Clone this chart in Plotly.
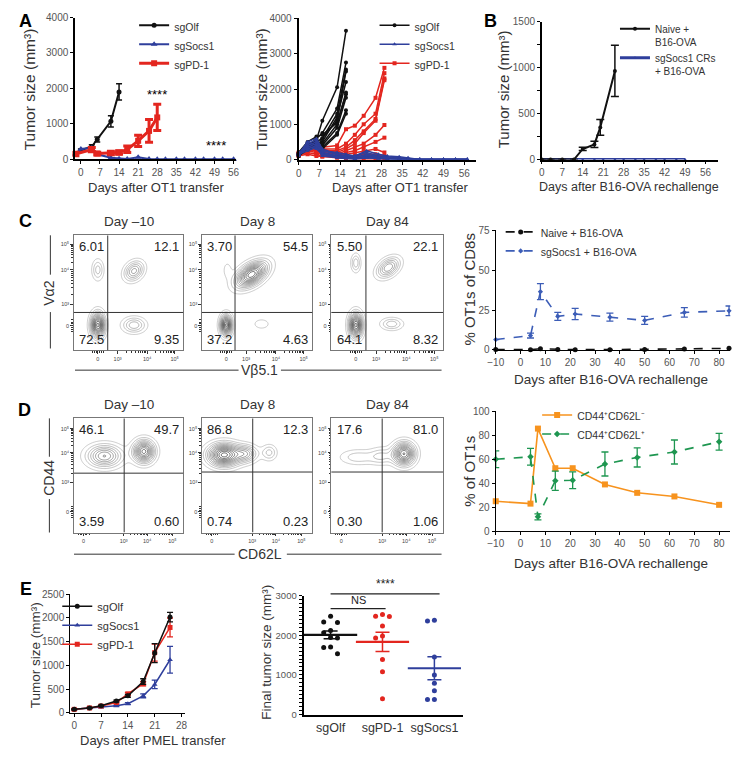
import numpy as np
import plotly.graph_objects as go

W, H = 751, 758
FONT = "Liberation Sans, Arial, sans-serif"

BLACK = "#111111"
BLUE = "#2F3F9C"
RED = "#E3261F"
BLUE_C = "#3C5DB7"
ORANGE = "#F7931E"
GREEN = "#1E9650"

# ---------------- Panel A (left): mean +/- SEM ----------------
a_olf_days = [-2, 0, 4, 6, 11, 14]
a_olf_vals = [130, 250, 360, 555, 1070, 1900]
a_olf_err = [30, 40, 50, 70, 160, 230]
a_socs_days = [-2, 0, 4, 6, 11, 14, 17, 21, 25, 28, 31, 35, 38, 42, 45, 49, 52, 56]
a_socs_vals = [150, 290, 320, 140, 40, 15, 10, 55, 5, 0, 0, 0, 0, 0, 0, 0, 0, 0]
a_pd1_days = [-2, 4, 6, 11, 14, 17, 21, 25, 28]
a_pd1_vals = [150, 270, 160, 175, 190, 280, 520, 800, 1180]
a_pd1_err = [50, 60, 40, 50, 50, 90, 160, 320, 370]
a_sig_x = [28, 49.5]
a_sig_y = [1840, 380]
a_sig_text = ["****", "****"]

# ---------------- Panel A (middle): individual mice ----------------
sp_olf_days = [0, 3, 6, 8, 13, 16]
sp_olf = [
    [150, 400, 550, 1100, 2050, 3650],
    [120, 350, 600, 750, 1450, 2750],
    [180, 450, 500, 600, 1300, 2550],
    [100, 300, 450, 500, 1200, 2200],
    [200, 500, 650, 700, 1050, 1850],
    [150, 380, 420, 400, 900, 1750],
    [130, 320, 380, 350, 750, 1400],
    [160, 420, 550, 300, 700, 1300],
    [110, 280, 350, 600, 1100, 2500],
    [140, 360, 480, 450, 1000, 1900],
]
sp_pd1_days = [0, 3, 6, 8, 13, 16, 19, 22, 26, 29]
sp_pd1 = [
    [150, 300, 450, 350, 400, 860, 960, 1240, 1750, 2600],
    [120, 350, 400, 300, 300, 450, 700, 1000, 1300, 2450],
    [180, 400, 350, 250, 250, 350, 550, 800, 1150, 2300],
    [100, 250, 300, 300, 200, 300, 450, 750, 1100, 2250],
    [200, 300, 250, 200, 150, 250, 350, 450, 700, 980],
    [150, 250, 200, 150, 100, 200, 250, 350, 500, 620],
    [130, 200, 150, 100, 100, 150, 200, 250, 300, 200],
    [160, 300, 250, 200, 150, 100, 100, 150, 150, 100],
    [110, 150, 100, 80, 50, 30, 20, 0, 0, 0],
]
sp_socs_days = [0, 3, 6, 8, 13, 16, 19, 23, 27, 30, 34, 37, 41, 45, 49, 53, 57]
sp_socs = [
    [150, 500, 600, 300, 150, 100, 100, 250, 150, 100, 80, 50, 0, 0, 0, 0, 0],
    [120, 450, 550, 250, 200, 150, 100, 200, 100, 80, 50, 30, 0, 0, 0, 0, 0],
    [180, 400, 500, 200, 100, 80, 50, 150, 80, 50, 30, 0, 0, 0, 0, 0, 0],
    [100, 350, 450, 150, 80, 50, 30, 100, 50, 30, 0, 0, 0, 0, 0, 0, 0],
    [200, 300, 400, 100, 50, 30, 0, 50, 30, 0, 0, 0, 0, 0, 0, 0, 0],
    [150, 250, 350, 200, 100, 80, 50, 80, 50, 30, 0, 0, 0, 0, 0, 0, 0],
    [130, 500, 400, 250, 150, 100, 80, 120, 80, 50, 30, 0, 0, 0, 0, 0, 0],
    [160, 380, 300, 150, 60, 40, 20, 50, 20, 0, 0, 0, 0, 0, 0, 0, 0],
]

# ---------------- Panel B ----------------
b_naive_days = [0, 3, 7, 11, 14, 18, 20, 25]
b_naive_vals = [0, 0, 0, 0, 115, 165, 350, 965]
b_naive_err = [0, 0, 0, 0, 18, 35, 85, 280]
b_socs_days = [0, 3, 7, 11, 14, 18, 21, 25, 28, 32, 35, 39, 42, 46, 49]
b_socs_vals = [0, 0, 0, 0, 0, 0, 0, 0, 0, 0, 0, 0, 0, 0, 0]

# ---------------- Panel C / D flow plots ----------------
flow_titles = ["Day \u201310", "Day 8", "Day 84"]
c_quads = [["6.01", "12.1", "72.5", "9.35"],
           ["3.70", "54.5", "37.2", "4.63"],
           ["5.50", "22.1", "64.1", "8.32"]]
d_quads = [["46.1", "49.7", "3.59", "0.60"],
           ["86.8", "12.3", "0.74", "0.23"],
           ["17.6", "81.0", "0.30", "1.06"]]
# populations: (center x, center y, spread x, spread y, tilt deg, density)
c_pops = [
    [(0.22, 0.70, 0.035, 0.060, 0, 0.26), (0.55, 0.69, 0.065, 0.050, 40, 0.48),
     (0.22, 0.22, 0.042, 0.070, 0, 1.00), (0.55, 0.22, 0.070, 0.045, 0, 0.36)],
    [(0.23, 0.70, 0.028, 0.050, 0, 0.11), (0.45, 0.66, 0.105, 0.058, 32, 0.95),
     (0.22, 0.22, 0.035, 0.058, 0, 1.00), (0.54, 0.23, 0.050, 0.030, 0, 0.14)],
    [(0.22, 0.76, 0.028, 0.052, 0, 0.28), (0.51, 0.72, 0.075, 0.048, 35, 0.52),
     (0.22, 0.22, 0.040, 0.070, 0, 1.00), (0.54, 0.23, 0.065, 0.035, 0, 0.28)],
]
d_pops = [
    [(0.28, 0.67, 0.105, 0.065, 0, 0.60), (0.64, 0.71, 0.065, 0.065, 0, 0.85)],
    [(0.20, 0.68, 0.095, 0.065, 0, 1.00), (0.40, 0.69, 0.070, 0.050, 0, 0.45),
     (0.61, 0.70, 0.045, 0.045, 0, 0.25)],
    [(0.24, 0.66, 0.110, 0.045, 0, 0.20), (0.45, 0.67, 0.070, 0.050, 0, 0.22),
     (0.65, 0.69, 0.065, 0.065, 0, 0.90)],
]
c_gate_x = [0.31, 0.30, 0.31]
c_gate_y = [0.33, 0.33, 0.33]
d_gate_x = [0.46, 0.46, 0.455]
d_gate_y = [0.52, 0.53, 0.53]
flow_ticktext = ["0", "10\u00b3", "10\u2074", "10\u2075"]
c_xtick = [0.22, 0.40, 0.67, 0.92]
c_ytick = [0.216, 0.40, 0.70, 0.92]
d_xtick = [0.09, 0.455, 0.67, 0.90]
d_ytick = [0.18, 0.44, 0.70, 0.91]

# ---------------- Panel C right ----------------
c_days = [-10, 4, 8, 15, 22, 36, 50, 66, 84]
c_naive = [0.3, 0.2, 0.8, 0.3, 0.2, 0.2, 0.3, 0.6, 1.0]
c_socs = [6.5, 9, 36.5, 21, 22.5, 20.5, 18.5, 23.5, 24.5]
c_socs_err = [0, 1.5, 5, 2.5, 3.5, 2.5, 2.5, 3, 3]

# ---------------- Panel D right ----------------
d_days = [-10, 4, 7, 14, 21, 34, 47, 62, 80]
d_eff = [25, 23, 85.5, 52.5, 52.5, 39, 32, 29, 22]
d_mem = [60, 62, 12, 42, 42.5, 56, 61.5, 66, 74.5]
d_mem_err = [7, 7, 2.5, 8, 7, 10, 8, 10, 7]

# ---------------- Panel E left ----------------
e_days = [0, 4, 7, 11, 14, 18, 21, 25]
e_olf = [75, 105, 150, 250, 360, 660, 1260, 2020]
e_olf_err = [10, 10, 15, 20, 30, 60, 200, 100]
e_socs = [75, 100, 120, 150, 195, 360, 600, 1120]
e_socs_err = [10, 10, 10, 15, 20, 40, 90, 280]
e_pd1 = [75, 105, 145, 220, 400, 615, 1270, 1800]
e_pd1_err = [10, 10, 15, 20, 30, 45, 180, 200]

# ---------------- Panel E right ----------------
e_cats = ["sgOlf", "sgPD-1", "sgSocs1"]
e_final = [
    [2480, 2330, 2320, 2120, 2060, 1940, 1930, 1700, 1690, 1530],
    [2520, 2480, 2470, 2230, 1980, 1930, 1390, 1080, 400],
    [2380, 2360, 1450, 1000, 790, 600, 380, 380],
]
e_cols = [BLACK, RED, BLUE]
E_YMAX = 3000
sig_x0 = [0, 0]
sig_x1 = [2.1, 1.06]
sig_y = [3040, 2670]
sig_text = ["****", "NS"]


# ================= helpers =================
def dom_x(a, b):
    return [a / W, b / W]


def dom_y(top, bot):
    return [1 - bot / H, 1 - top / H]


def ax(**kw):
    d = dict(showline=True, linecolor="black", linewidth=1.5, ticks="outside",
             ticklen=3, tickwidth=1.2, tickcolor="black",
             tickfont=dict(size=10, color="#555", family=FONT),
             showgrid=False, zeroline=False, fixedrange=True)
    d.update(kw)
    return d


def ptxt(text, x, y, size=13, angle=0, color="#333", xanchor="center",
         yanchor="middle", weight="normal"):
    return dict(text=text, x=x / W, y=1 - y / H, xref="paper", yref="paper",
                showarrow=False, textangle=angle, xanchor=xanchor, yanchor=yanchor,
                font=dict(size=size, color=color, family=FONT, weight=weight))


def pline(x0, y0, x1, y1, color="#333", width=1):
    return dict(type="line", xref="paper", yref="paper", x0=x0 / W, x1=x1 / W,
                y0=1 - y0 / H, y1=1 - y1 / H, line=dict(color=color, width=width))


def density(pops):
    g = np.linspace(0, 1, 141)
    X, Y = np.meshgrid(g, g)
    Z = np.zeros_like(X)
    for cx, cy, sx, sy, ang, amp in pops:
        t = np.deg2rad(ang)
        dx, dy = X - cx, Y - cy
        u = dx * np.cos(t) + dy * np.sin(t)
        v = -dx * np.sin(t) + dy * np.cos(t)
        Z += amp * np.exp(-0.5 * ((u / sx) ** 2 + (v / sy) ** 2))
    return g, Z


def minor_vals(ticks):
    out = []
    p0 = ticks[0]
    out += [p0 - 0.05, p0 - 0.03, p0 - 0.015, p0 + 0.015, p0 + 0.03, p0 + 0.05]
    for a, b in zip(ticks[1:-1], ticks[2:]):
        out += [a + np.log10(m) * (b - a) for m in range(2, 10)]
    return [float(v) for v in out if 0 < v < 1]


def swarm(vals, center, px_y, px_x, mind=7.0, step=7.0):
    placed, xs = [], []
    offs = [0]
    for i in range(1, 8):
        offs += [-i, i]
    for v in vals:
        yp = v * px_y
        xp = 0.0
        for o in offs:
            xp = o * step
            if all((xp - a) ** 2 + (yp - b) ** 2 >= mind ** 2 for a, b in placed):
                break
        placed.append((xp, yp))
        xs.append(center + xp / px_x)
    return xs


fig = go.Figure()
layout = {}
annotations = []
shapes = []

# ================= Panel A left =================
layout["xaxis"] = ax(domain=dom_x(68.3, 231.7), range=[-2.05, 57],
                     tickvals=list(range(0, 57, 7)), anchor="y", linewidth=2)
layout["yaxis"] = ax(domain=dom_y(11.7, 155.7), range=[0, 4000], dtick=1000,
                     anchor="x", linewidth=2)
fig.add_trace(go.Scatter(x=a_olf_days, y=a_olf_vals, name="sgOlf", mode="lines+markers",
                         line=dict(color=BLACK, width=2), marker=dict(symbol="circle", size=5),
                         error_y=dict(array=a_olf_err, color=BLACK, thickness=1.5, width=3),
                         xaxis="x", yaxis="y", legend="legend", cliponaxis=False))
fig.add_trace(go.Scatter(x=a_socs_days, y=a_socs_vals, name="sgSocs1", mode="lines+markers",
                         line=dict(color=BLUE, width=2), marker=dict(symbol="triangle-up", size=6),
                         xaxis="x", yaxis="y", legend="legend", cliponaxis=False))
fig.add_trace(go.Scatter(x=a_pd1_days, y=a_pd1_vals, name="sgPD-1", mode="lines+markers",
                         line=dict(color=RED, width=3), marker=dict(symbol="square", size=6),
                         error_y=dict(array=a_pd1_err, color=RED, thickness=3, width=4),
                         xaxis="x", yaxis="y", legend="legend", cliponaxis=False))
for sx, sy, st in zip(a_sig_x, a_sig_y, a_sig_text):
    annotations.append(dict(text=st, x=sx, y=sy, xref="x", yref="y", showarrow=False,
                            font=dict(size=13, color="black", family=FONT)))

# ================= Panel A middle =================
layout["xaxis2"] = ax(domain=dom_x(295, 475), range=[0, 60],
                      tickvals=list(range(0, 57, 7)), anchor="y2", linewidth=2)
layout["yaxis2"] = ax(domain=dom_y(12.7, 156), range=[0, 4000], dtick=1000,
                      anchor="x2", linewidth=2)
for i, m in enumerate(sp_pd1):
    fig.add_trace(go.Scatter(x=sp_pd1_days, y=m, name="sgPD-1", mode="lines+markers",
                             line=dict(color=RED, width=1.5), marker=dict(symbol="square", size=4),
                             xaxis="x2", yaxis="y2", legend="legend2", legendrank=3,
                             showlegend=(i == 0), cliponaxis=False))
for i, m in enumerate(sp_olf):
    fig.add_trace(go.Scatter(x=sp_olf_days, y=m, name="sgOlf", mode="lines+markers",
                             line=dict(color=BLACK, width=1.5), marker=dict(symbol="circle", size=4),
                             xaxis="x2", yaxis="y2", legend="legend2", legendrank=1,
                             showlegend=(i == 0), cliponaxis=False))
for i, m in enumerate(sp_socs):
    fig.add_trace(go.Scatter(x=sp_socs_days, y=m, name="sgSocs1", mode="lines+markers",
                             line=dict(color=BLUE, width=1.5), marker=dict(symbol="triangle-up", size=4),
                             xaxis="x2", yaxis="y2", legend="legend2", legendrank=2,
                             showlegend=(i == 0), cliponaxis=False))

# ================= Panel B =================
layout["xaxis3"] = ax(domain=dom_x(541.7, 720.7), range=[0, 60.3],
                      tickvals=list(range(0, 57, 7)), anchor="y3")
layout["yaxis3"] = ax(domain=dom_y(16, 156), range=[0, 1500], dtick=500, anchor="x3",
                      minor=dict(dtick=250, ticklen=3, ticks="outside", tickcolor="black"))
fig.add_trace(go.Scatter(x=b_socs_days, y=b_socs_vals, name="sgSocs1 CRs<br>+ B16-OVA",
                         mode="lines+markers", line=dict(color=BLUE, width=3),
                         marker=dict(symbol="triangle-up", size=3),
                         xaxis="x3", yaxis="y3", legend="legend3", legendrank=2, cliponaxis=False))
fig.add_trace(go.Scatter(x=b_naive_days, y=b_naive_vals, name="Naive +<br>B16-OVA",
                         mode="lines+markers", line=dict(color=BLACK, width=2),
                         marker=dict(symbol="circle", size=4),
                         error_y=dict(array=b_naive_err, color=BLACK, thickness=1.5, width=4),
                         xaxis="x3", yaxis="y3", legend="legend3", legendrank=1, cliponaxis=False))

# ================= Flow plots C & D =================
c_xdom = [(66.7, 178), (196.7, 309), (328, 441.7)]
c_ydom = (233, 350)
d_ydom = (419, 535)


def flow_axes(n, xd, yd, xt, yt):
    base = dict(range=[0, 1], showline=True, mirror=True, linecolor="#777", linewidth=1,
                ticks="outside", ticklen=2.5, tickwidth=0.8, tickcolor="#333",
                ticktext=flow_ticktext, tickfont=dict(size=5.5, color="#444", family=FONT),
                showgrid=False, zeroline=False, fixedrange=True)
    layout[f"xaxis{n}"] = dict(base, domain=dom_x(*xd), tickvals=xt, anchor=f"y{n}",
                               minor=dict(tickvals=minor_vals(xt), ticklen=1.5,
                                          ticks="outside", tickcolor="#333"))
    layout[f"yaxis{n}"] = dict(base, domain=dom_y(*yd), tickvals=yt, anchor=f"x{n}",
                               minor=dict(tickvals=minor_vals(yt), ticklen=1.5,
                                          ticks="outside", tickcolor="#333"))


def flow_panel(n, pops, quads, gx, gy, title):
    g, Z = density(pops)
    fig.add_trace(go.Contour(x=g, y=g, z=Z, xaxis=f"x{n}", yaxis=f"y{n}",
                             autocontour=False,
                             contours=dict(coloring="lines", start=0.07, end=1.4, size=0.075),
                             line=dict(width=0.7, smoothing=1),
                             colorscale=[[0, "#b5b5b5"], [0.5, "#666666"], [1, "#1a1a1a"]],
                             zmin=0, zmax=1.1, showscale=False, hoverinfo="skip",
                             showlegend=False))
    shapes.append(dict(type="line", xref=f"x{n}", yref=f"y{n}", x0=gx, x1=gx, y0=0, y1=1,
                       line=dict(color="#333", width=1)))
    shapes.append(dict(type="line", xref=f"x{n}", yref=f"y{n}", x0=0, x1=1, y0=gy, y1=gy,
                       line=dict(color="#333", width=1)))
    pos = [(0.03, 0.985, "left", "top"), (0.975, 0.985, "right", "top"),
           (0.03, 0.01, "left", "bottom"), (0.975, 0.01, "right", "bottom")]
    for q, (qx, qy, xa, ya) in zip(quads, pos):
        annotations.append(dict(text=q, x=qx, y=qy, xref=f"x{n}", yref=f"y{n}",
                                xanchor=xa, yanchor=ya, showarrow=False,
                                font=dict(size=13, color="#222", family=FONT)))
    annotations.append(dict(text=title, x=0.5, y=1, xref=f"x{n} domain", yref=f"y{n} domain",
                            xanchor="center", yanchor="bottom", yshift=4, showarrow=False,
                            font=dict(size=13.5, color="#333", family=FONT)))


for k, n in enumerate([4, 5, 6]):
    flow_axes(n, c_xdom[k], c_ydom, c_xtick, c_ytick)
    flow_panel(n, c_pops[k], c_quads[k], c_gate_x[k], c_gate_y[k], flow_titles[k])
for k, n in enumerate([8, 9, 10]):
    flow_axes(n, c_xdom[k], d_ydom, d_xtick, d_ytick)
    flow_panel(n, d_pops[k], d_quads[k], d_gate_x[k], d_gate_y[k], flow_titles[k])

# flow axis labels with bracket lines
annotations.append(ptxt("V\u03b12", 42, 292, size=14, angle=-90))
shapes += [pline(43, 233, 43, 273), pline(43, 311, 43, 348)]
annotations.append(ptxt("V\u03b25.1", 255, 370, size=14))
shapes += [pline(68, 370, 234, 370), pline(277, 370, 440, 370)]
annotations.append(ptxt("CD44", 42, 479, size=14, angle=-90))
shapes += [pline(42, 419, 42, 458), pline(42, 501, 42, 535)]
annotations.append(ptxt("CD62L", 256, 557, size=14))
shapes += [pline(67, 557, 230, 557), pline(283, 557, 440, 557)]

# ================= Panel C right =================
layout["xaxis7"] = ax(domain=dom_x(495, 733), range=[-10, 84.5], tickvals=list(range(-10, 81, 10)),
                      anchor="y7", linewidth=1.3)
layout["yaxis7"] = ax(domain=dom_y(227.7, 349.5), range=[0, 75], dtick=25, anchor="x7",
                      linewidth=1.3)
fig.add_trace(go.Scatter(x=c_days, y=c_naive, name="Naive + B16-OVA", mode="lines+markers",
                         line=dict(color=BLACK, width=1.6, dash="dash"),
                         marker=dict(symbol="circle", size=5),
                         xaxis="x7", yaxis="y7", legend="legend4", cliponaxis=False))
fig.add_trace(go.Scatter(x=c_days, y=c_socs, name="sgSocs1 + B16-OVA", mode="lines+markers",
                         line=dict(color=BLUE_C, width=1.6, dash="dash"),
                         marker=dict(symbol="diamond", size=4),
                         error_y=dict(array=c_socs_err, color=BLUE_C, thickness=1.3, width=3.5),
                         xaxis="x7", yaxis="y7", legend="legend4", cliponaxis=False))

# ================= Panel D right =================
layout["xaxis11"] = ax(domain=dom_x(495, 733), range=[-10, 84.5], tickvals=list(range(-10, 81, 10)),
                       anchor="y11", linewidth=1.3)
layout["yaxis11"] = ax(domain=dom_y(411.7, 533.7), range=[0, 100], dtick=20, anchor="x11",
                       linewidth=1.3)
fig.add_trace(go.Scatter(x=d_days, y=d_eff, name="CD44\u207aCD62L\u207b", mode="lines+markers",
                         line=dict(color=ORANGE, width=1.6), marker=dict(symbol="square", size=6),
                         xaxis="x11", yaxis="y11", legend="legend5", cliponaxis=False))
fig.add_trace(go.Scatter(x=d_days, y=d_mem, name="CD44\u207aCD62L\u207a", mode="lines+markers",
                         line=dict(color=GREEN, width=1.6, dash="dash"),
                         marker=dict(symbol="diamond", size=5),
                         error_y=dict(array=d_mem_err, color=GREEN, thickness=1.3, width=3.5),
                         xaxis="x11", yaxis="y11", legend="legend5", cliponaxis=False))

# ================= Panel E left =================
layout["xaxis12"] = ax(domain=dom_x(63.3, 180), range=[-1, 29], tickvals=list(range(0, 29, 7)),
                       anchor="y12", linewidth=1.3)
layout["yaxis12"] = ax(domain=dom_y(597.7, 718.3), range=[0, 2500], dtick=500, anchor="x12",
                       linewidth=1.3)
fig.add_trace(go.Scatter(x=e_days, y=e_socs, name="sgSocs1", mode="lines+markers",
                         line=dict(color=BLUE, width=1.5), marker=dict(symbol="triangle-up", size=5),
                         error_y=dict(array=e_socs_err, color=BLUE, thickness=1.3, width=3),
                         xaxis="x12", yaxis="y12", legend="legend6", legendrank=2, cliponaxis=False))
fig.add_trace(go.Scatter(x=e_days, y=e_pd1, name="sgPD-1", mode="lines+markers",
                         line=dict(color=RED, width=1.5), marker=dict(symbol="square", size=5),
                         error_y=dict(array=e_pd1_err, color=RED, thickness=1.3, width=3),
                         xaxis="x12", yaxis="y12", legend="legend6", legendrank=3, cliponaxis=False))
fig.add_trace(go.Scatter(x=e_days, y=e_olf, name="sgOlf", mode="lines+markers",
                         line=dict(color=BLACK, width=1.5), marker=dict(symbol="circle", size=5),
                         error_y=dict(array=e_olf_err, color=BLACK, thickness=1.3, width=3),
                         xaxis="x12", yaxis="y12", legend="legend6", legendrank=1, cliponaxis=False))

# ================= Panel E right =================
layout["xaxis13"] = ax(domain=dom_x(300, 461.7), range=[-0.52, 2.55], tickvals=[0, 1, 2],
                       ticktext=e_cats, ticks="", anchor="y13", linewidth=2,
                       tickfont=dict(size=12.5, color="#333", family=FONT))
layout["yaxis13"] = ax(domain=dom_y(599, 720), range=[0, E_YMAX], dtick=1000, anchor="x13",
                       linewidth=2, tickfont=dict(size=9.5, color="#555", family=FONT),
                       minor=dict(dtick=100, ticklen=2.5, ticks="outside", tickcolor="black"))
px_y = 121 / E_YMAX
px_x = 161.7 / 3.07
for i, (vals, col) in enumerate(zip(e_final, e_cols)):
    xs = swarm(vals, i, px_y, px_x)
    fig.add_trace(go.Scatter(x=xs, y=vals, mode="markers", marker=dict(color=col, size=5),
                             xaxis="x13", yaxis="y13", showlegend=False, cliponaxis=False))
    arr = np.array(vals, dtype=float)
    mean = float(arr.mean())
    sem = float(arr.std(ddof=1) / np.sqrt(len(arr)))
    fig.add_trace(go.Scatter(x=[i], y=[mean], mode="markers",
                             marker=dict(symbol="line-ew", size=38, color=col,
                                         line=dict(color=col, width=2.2)),
                             error_y=dict(array=[sem], color=col, thickness=1.5, width=7),
                             xaxis="x13", yaxis="y13", showlegend=False, cliponaxis=False))
for x0, x1, y, t in zip(sig_x0, sig_x1, sig_y, sig_text):
    yd = y / E_YMAX
    shapes.append(dict(type="line", xref="x13", yref="y13 domain", x0=x0, x1=x1, y0=yd, y1=yd,
                       line=dict(color="#222", width=1.3)))
    annotations.append(dict(x=(x0 + x1) / 2, y=yd, xref="x13", yref="y13 domain",
                            text=t, showarrow=False, yanchor="bottom", yshift=1,
                            font=dict(size=11 if t == "NS" else 12, color="#222", family=FONT)))

# ================= Titles / labels =================
annotations += [
    ptxt("Tumor size (mm\u00b3)", 22, 85, size=15.5, angle=-90),
    ptxt("Days after OT1 transfer", 150, 184, size=13),
    ptxt("Tumor size (mm\u00b3)", 257, 84, size=15.5, angle=-90),
    ptxt("Days after OT1 transfer", 398, 184, size=13),
    ptxt("Tumor size (mm\u00b3)", 503, 85, size=15, angle=-90),
    ptxt("Days after B16-OVA rechallenge", 630, 184, size=12.5),
    ptxt("% OT1s of CD8s", 468, 288, size=15, angle=-90),
    ptxt("Days after B16-OVA rechallenge", 612, 379, size=13.5),
    ptxt("% of OT1s", 468, 473, size=15, angle=-90),
    ptxt("Days after B16-OVA rechallenge", 612, 566, size=13.5),
    ptxt("Tumor size (mm\u00b3)", 28, 660, size=13.5, angle=-90),
    ptxt("Days after PMEL transfer", 147, 746, size=13),
    ptxt("Final tumor size (mm\u00b3)", 262, 657, size=13.5, angle=-90),
    ptxt("A", 18, 15, size=18, color="black", weight="bold"),
    ptxt("B", 490, 15, size=18, color="black", weight="bold"),
    ptxt("C", 18, 218, size=18, color="black", weight="bold"),
    ptxt("D", 17, 410, size=18, color="black", weight="bold"),
    ptxt("E", 18, 592, size=18, color="black", weight="bold"),
]


def leg(xp, yp, size=10.5):
    return dict(x=xp / W, y=1 - yp / H, xanchor="left", yanchor="top",
                bgcolor="rgba(0,0,0,0)", font=dict(size=size, color="#333", family=FONT),
                tracegroupgap=0, itemwidth=30, valign="top")


layout["legend"] = leg(128, 6)
layout["legend2"] = leg(372, 6)
layout["legend3"] = leg(616, 10, size=10)
layout["legend4"] = leg(500, 216)
layout["legend5"] = leg(537, 402)
layout["legend6"] = leg(50, 596, size=11)

fig.update_layout(**layout)
fig.update_layout(width=W, height=H, margin=dict(l=0, r=0, t=0, b=0),
                  paper_bgcolor="white", plot_bgcolor="rgba(0,0,0,0)",
                  font=dict(family=FONT, color="#222"),
                  annotations=annotations, shapes=shapes, showlegend=True)

fig.write_html("out.html", config={"displayModeBar": False},
               post_script="document.body.style.margin='0';document.body.style.overflow='hidden';")
